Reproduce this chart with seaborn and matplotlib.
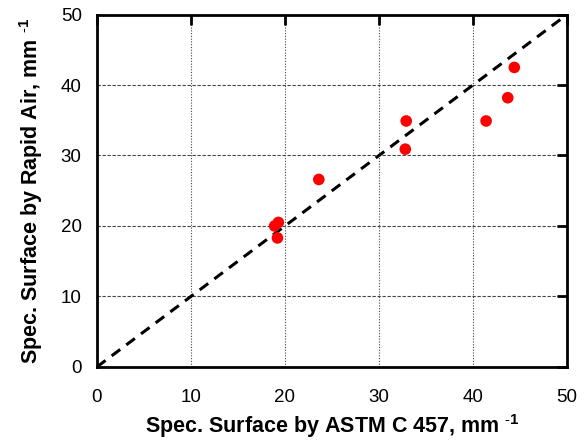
# specific surface comparison

import numpy as np
import pandas as pd
import matplotlib
matplotlib.use("Agg")
import matplotlib.pyplot as plt
import seaborn as sns

astm = [18.9, 19.3, 19.2, 23.6, 32.9, 32.8, 41.4, 43.7, 44.4]
rapid_air = [20.0, 20.5, 18.3, 26.6, 34.9, 30.9, 34.9, 38.2, 42.5]
line_vals = [0, 50]
ticks = [0, 10, 20, 30, 40, 50]

df = pd.DataFrame({"astm": astm, "rapid": rapid_air})

sns.set_style("white")
plt.rcParams['font.family'] = ['Liberation Sans', 'DejaVu Sans']
plt.rcParams['mathtext.fontset'] = 'custom'
plt.rcParams['mathtext.rm'] = 'Liberation Sans'
plt.rcParams['mathtext.bf'] = 'Liberation Sans:bold'
plt.rcParams['text.color'] = 'black'
plt.rcParams['axes.labelcolor'] = 'black'

fig = plt.figure(figsize=(5.86, 4.42), dpi=100)
ax = fig.add_axes([0.1655, 0.170, 0.802, 0.797])

ax.grid(True, axis='y', color='#444444', linestyle=(0, (3, 1.5)), linewidth=0.8)
ax.grid(True, axis='x', color='#444444', linestyle=(0, (1, 1.5)), linewidth=0.8)
ax.set_axisbelow(True)

sns.lineplot(x=line_vals, y=line_vals, color='black', linewidth=2.2,
             linestyle=(0, (3.5, 2.5)), ax=ax, zorder=2)
sns.scatterplot(data=df, x="astm", y="rapid", color='#ff0000', s=70,
                edgecolor='none', ax=ax, zorder=3)

ax.set_xlim(0, 50)
ax.set_ylim(0, 50)
ax.set_xticks(ticks)
ax.set_yticks(ticks)
ax.tick_params(direction='in', length=7, width=2, top=True, right=True,
               labelsize=13.5, colors='black')
ax.tick_params(axis='x', pad=16)
ax.tick_params(axis='y', pad=11)
for s in ax.spines.values():
    s.set_linewidth(2)
    s.set_color('black')

ax.set_xlabel(r"Spec. Surface by ASTM C 457, mm $^{\mathbf{\text{-}1}}$", fontsize=15.5,
              fontweight='bold', labelpad=4)
ax.set_ylabel(r"Spec. Surface by Rapid Air, mm $^{\mathbf{\text{-}1}}$", fontsize=15.5,
              fontweight='bold', labelpad=11)

plt.savefig("out.png", dpi=100)
